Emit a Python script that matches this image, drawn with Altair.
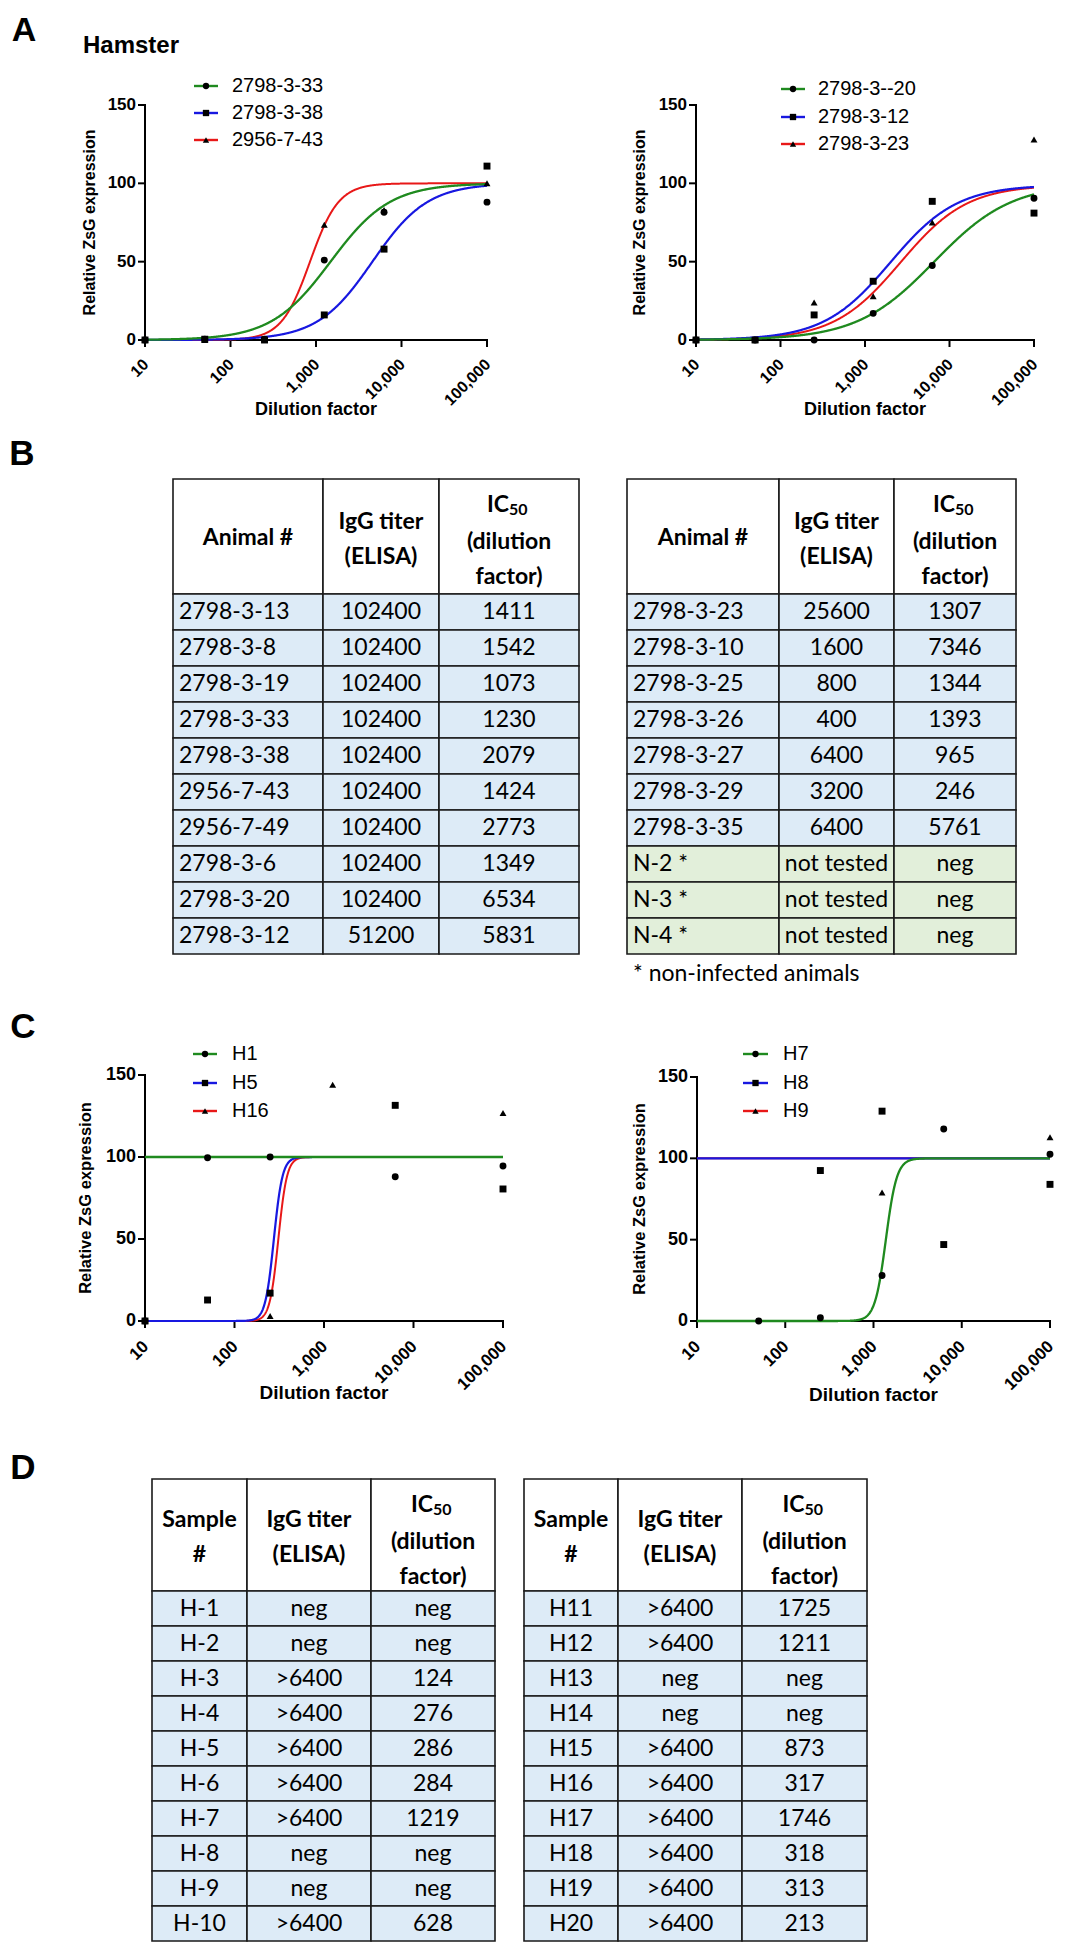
import altair as alt
import pandas as pd

# ------------------------------------------------------------------
# Values
# ------------------------------------------------------------------
dilution = [10, 50, 250, 1250, 6250, 100000]
x_tick_values = [10, 100, 1000, 10000, 100000]
y_tick_values = [0, 50, 100, 150]

# Panel A, left
a1_series = ["2798-3-33", "2798-3-38", "2956-7-43"]
a1_33 = [0, 0.5, 0.5, 51, 81.5, 88]
a1_38 = [0, 0.5, 0, 16, 58, 111]
a1_43 = [0, 0, 0.5, 73.5, 83, 100]
# fitted 4-parameter logistic curves (log10 IC50, Hill slope, bottom, top)
a1_logic50 = [3.17, 3.66, 2.93]
a1_hill = [1.25, 1.35, 2.6]
a1_bottom = [0, 0, 0]
a1_top = [100, 100, 100]

# Panel A, right
a2_series = ["2798-3--20", "2798-3-12", "2798-3-23"]
a2_20 = [0, 0, 0, 17, 47.5, 90.5]
a2_12 = [0, 0, 16, 37.5, 88.5, 81]
a2_23 = [0, 0, 24, 28, 75, 128]
a2_logic50 = [3.82, 3.30, 3.42]
a2_hill = [0.95, 1.1, 1.1]
a2_bottom = [0, 0, 0]
a2_top = [100, 99, 99]

# Panel C, left
c1_series = ["H1", "H5", "H16"]
c1_h1 = [0, 99.5, 100, None, 88, 94.5]
c1_h5 = [0, 12.8, 17, None, 131.5, 80.5]
c1_h16 = [0, None, 3, 144, None, 126.8]
c1_logic50 = [2.0, 2.44, 2.49]
c1_hill = [1, 9, 9]
c1_bottom = [100, 0, 0]
c1_top = [100, 100, 100]

# Panel C, right
c2_series = ["H7", "H8", "H9"]
c2_h7 = [None, 0, 2, 28, 118, 102.5]
c2_h8 = [None, None, 92.5, 129, 47, 84]
c2_h9 = [None, None, None, 79, None, 113]
c2_logic50 = [3.14, 2.0, 2.0]
c2_hill = [7, 1, 1]
c2_bottom = [0, 100, 100]
c2_top = [100, 100, 100]

# Panel B tables
b1_animal = ["2798-3-13", "2798-3-8", "2798-3-19", "2798-3-33", "2798-3-38",
             "2956-7-43", "2956-7-49", "2798-3-6", "2798-3-20", "2798-3-12"]
b1_igg = ["102400"] * 9 + ["51200"]
b1_ic50 = ["1411", "1542", "1073", "1230", "2079", "1424", "2773", "1349", "6534", "5831"]

b2_animal = ["2798-3-23", "2798-3-10", "2798-3-25", "2798-3-26", "2798-3-27",
             "2798-3-29", "2798-3-35", "N-2 *", "N-3 *", "N-4 *"]
b2_igg = ["25600", "1600", "800", "400", "6400", "3200", "6400",
          "not tested", "not tested", "not tested"]
b2_ic50 = ["1307", "7346", "1344", "1393", "965", "246", "5761", "neg", "neg", "neg"]

# Panel D tables
d1_sample = ["H-1", "H-2", "H-3", "H-4", "H-5", "H-6", "H-7", "H-8", "H-9", "H-10"]
d1_igg = ["neg", "neg", ">6400", ">6400", ">6400", ">6400", ">6400", "neg", "neg", ">6400"]
d1_ic50 = ["neg", "neg", "124", "276", "286", "284", "1219", "neg", "neg", "628"]

d2_sample = ["H11", "H12", "H13", "H14", "H15", "H16", "H17", "H18", "H19", "H20"]
d2_igg = [">6400", ">6400", "neg", "neg", ">6400", ">6400", ">6400", ">6400", ">6400", ">6400"]
d2_ic50 = ["1725", "1211", "neg", "neg", "873", "317", "1746", "318", "313", "213"]

# ------------------------------------------------------------------
# Layout / style
# ------------------------------------------------------------------
W, H, OFF = 1070, 1934, 8
ARIAL = "Liberation Sans"
TFONT = "Lato"
GREEN, BLUE, RED = "#1F8A1F", "#1818E0", "#E81818"
line_colors = [GREEN, BLUE, RED]
line_widths = [2.3, 2.2, 2.0]
markers = ["circle", "square", "triangle-up"]
BLUE_FILL, GREEN_FILL, BORDER = "#DDEBF7", "#E2EFDA", "#1A1A1A"


def axis_layers(xs, ys, g):
    X = lambda f: alt.X(f, scale=xs, axis=None)
    Y = lambda f: alt.Y(f, scale=ys, axis=None)
    layers = []
    # axis lines
    layers.append(alt.Chart(pd.DataFrame({"a": [x_tick_values[0]], "b": [x_tick_values[-1]],
                                          "y": [y_tick_values[0]]}))
                  .mark_rule(color="black", strokeWidth=2, strokeCap="square")
                  .encode(x=X("a:Q"), x2="b:Q", y=Y("y:Q")))
    layers.append(alt.Chart(pd.DataFrame({"x": [x_tick_values[0]], "a": [y_tick_values[0]],
                                          "b": [y_tick_values[-1]]}))
                  .mark_rule(color="black", strokeWidth=2, strokeCap="square")
                  .encode(x=X("x:Q"), y=Y("a:Q"), y2="b:Q"))
    # x ticks + labels
    xt = pd.DataFrame({"v": x_tick_values, "label": [f"{v:,}" for v in x_tick_values],
                       "y": [y_tick_values[0]] * len(x_tick_values)})
    layers.append(alt.Chart(xt).mark_tick(orient="vertical", size=7, thickness=2,
                                          color="black", yOffset=3.5, opacity=1)
                  .encode(x=X("v:Q"), y=Y("y:Q")))
    layers.append(alt.Chart(xt).mark_text(angle=315, align="right", baseline="middle",
                                          font=ARIAL, fontWeight="bold", fontSize=g["xlfs"],
                                          color="black", xOffset=1, yOffset=g["ldy"])
                  .encode(x=X("v:Q"), y=Y("y:Q"), text="label:N"))
    # y ticks + labels
    yt = pd.DataFrame({"v": y_tick_values, "label": [str(v) for v in y_tick_values],
                       "x": [x_tick_values[0]] * len(y_tick_values)})
    layers.append(alt.Chart(yt).mark_tick(orient="horizontal", size=7, thickness=2,
                                          color="black", xOffset=-3.5, opacity=1)
                  .encode(x=X("x:Q"), y=Y("v:Q")))
    layers.append(alt.Chart(yt).mark_text(align="right", baseline="middle", font=ARIAL,
                                          fontWeight="bold", fontSize=g["ylfs"], color="black",
                                          xOffset=-9)
                  .encode(x=X("x:Q"), y=Y("v:Q"), text="label:N"))
    # titles
    layers.append(alt.Chart(pd.DataFrame({"x": [1000], "y": [0], "t": ["Dilution factor"]}))
                  .mark_text(align="center", baseline="middle", font=ARIAL, fontWeight="bold",
                             fontSize=g["xtfs"], color="black", yOffset=g["xtdy"])
                  .encode(x=X("x:Q"), y=Y("y:Q"), text="t:N"))
    layers.append(alt.Chart(pd.DataFrame({"x": [10], "y": [75], "t": ["Relative ZsG expression"]}))
                  .mark_text(align="center", baseline="middle", angle=270, font=ARIAL,
                             fontWeight="bold", fontSize=g["ytfs"], color="black",
                             xOffset=g["ytdx"])
                  .encode(x=X("x:Q"), y=Y("y:Q"), text="t:N"))
    return layers


def curve_panel(series, values, logic50, hill, bottom, top, g):
    xs = alt.Scale(type="log", domain=[10, 100000], range=[g["x0"] - OFF, g["x1"] - OFF], nice=False)
    ys = alt.Scale(type="linear", domain=[0, 150], range=[g["y0"] - OFF, g["y150"] - OFF],
                   nice=False, zero=False)
    layers = axis_layers(xs, ys, g)
    for i in [2, 1, 0]:
        expr = (f"{bottom[i]} + ({top[i]} - {bottom[i]}) / "
                f"(1 + pow(10, {hill[i]} * ({logic50[i]} - datum.t)))")
        layers.append(
            alt.Chart(alt.sequence(1, 5.0001, 0.004, as_="t"))
            .transform_calculate(dil="pow(10, datum.t)", fit=expr)
            .mark_line(color=line_colors[i], strokeWidth=line_widths[i])
            .encode(x=alt.X("dil:Q", scale=xs, axis=None),
                    y=alt.Y("fit:Q", scale=ys, axis=None))
        )
    rows = []
    for name, mk, vals in zip(series, markers, values):
        for d, v in zip(dilution, vals):
            if v is not None:
                rows.append(dict(series=name, marker=mk, dil=d, val=v))
    layers.append(
        alt.Chart(pd.DataFrame(rows))
        .mark_point(filled=True, color="black", opacity=1, size=48)
        .encode(x=alt.X("dil:Q", scale=xs, axis=None),
                y=alt.Y("val:Q", scale=ys, axis=None),
                shape=alt.Shape("marker:N", scale=None))
    )

    # legend (line + marker + label)
    leg = pd.DataFrame(dict(name=series, marker=markers, color=line_colors,
                            y=[v - OFF for v in g["leg_y"]]))
    mid = (g["lx0"] + g["lx1"]) / 2 - OFF
    layers.append(alt.Chart(leg).mark_rule(strokeWidth=2.4).encode(
        x=alt.value(g["lx0"] - OFF), x2=alt.value(g["lx1"] - OFF),
        y=alt.Y("y:Q", scale=None, axis=None), color=alt.Color("color:N", scale=None)))
    layers.append(alt.Chart(leg).mark_point(filled=True, color="black", opacity=1, size=40).encode(
        x=alt.value(mid), y=alt.Y("y:Q", scale=None, axis=None),
        shape=alt.Shape("marker:N", scale=None)))
    layers.append(alt.Chart(leg).mark_text(font=ARIAL, fontSize=20, align="left",
                                           baseline="middle", color="black").encode(
        x=alt.value(g["ltx"] - OFF), y=alt.Y("y:Q", scale=None, axis=None), text="name:N"))
    return alt.layer(*layers)


def text_chart(rows, weight, align, font):
    return alt.Chart(pd.DataFrame(rows)).mark_text(
        font=font, fontWeight=weight, align=align, baseline="middle", color="black"
    ).encode(x=alt.X("x:Q", scale=None, axis=None), y=alt.Y("y:Q", scale=None, axis=None),
             text="text:N", size=alt.Size("size:Q", scale=None, legend=None))


def table(edges, top, head_bot, row_h, columns, first_left, head_lines, ic_y, sub_y):
    n = len(columns[0])
    cells = []
    for c in range(3):
        cells.append(dict(x0=edges[c] - OFF, x1=edges[c + 1] - OFF,
                          y0=top - OFF, y1=head_bot - OFF, fill="#FFFFFF"))
        for r in range(n):
            fill = GREEN_FILL if columns[0][r].endswith("*") else BLUE_FILL
            cells.append(dict(x0=edges[c] - OFF, x1=edges[c + 1] - OFF,
                              y0=head_bot + r * row_h - OFF, y1=head_bot + (r + 1) * row_h - OFF,
                              fill=fill))
    rects = alt.Chart(pd.DataFrame(cells)).mark_rect(stroke=BORDER, strokeWidth=1.6).encode(
        x=alt.X("x0:Q", scale=None, axis=None), x2="x1:Q",
        y=alt.Y("y0:Q", scale=None, axis=None), y2="y1:Q",
        fill=alt.Fill("fill:N", scale=None))
    centers = [(edges[c] + edges[c + 1]) / 2 - OFF for c in range(3)]
    body_c, body_l = [], []
    for c in range(3):
        for r in range(n):
            y = head_bot + (r + 0.5) * row_h - OFF
            if c == 0 and first_left:
                body_l.append(dict(text=columns[c][r], x=edges[0] + 6 - OFF, y=y, size=23))
            else:
                body_c.append(dict(text=columns[c][r], x=centers[c], y=y, size=23))
    head = [dict(text=t, x=centers[c], y=yy - OFF, size=23) for (t, c, yy) in head_lines]
    layers = [rects, text_chart(body_c, "normal", "center", TFONT),
              text_chart(head, "bold", "center", TFONT),
              text_chart([dict(text="IC", x=centers[2], y=ic_y - OFF, size=23)], "bold", "right", TFONT),
              text_chart([dict(text="50", x=centers[2], y=sub_y - OFF, size=16)], "bold", "left", TFONT)]
    if body_l:
        layers.append(text_chart(body_l, "normal", "left", TFONT))
    return alt.layer(*layers)


geo_a1 = dict(x0=145, x1=487, y0=340, y150=105, ldy=22, xlfs=16, ylfs=17, xtfs=18, ytfs=16,
              xtdy=70, ytdx=-55, lx0=194, lx1=218, ltx=232, leg_y=[86, 113, 140])
geo_a2 = dict(x0=696, x1=1034, y0=340, y150=105, ldy=22, xlfs=16, ylfs=17, xtfs=18, ytfs=16,
              xtdy=70, ytdx=-56, lx0=781, lx1=805, ltx=818, leg_y=[89, 117, 144])
geo_c1 = dict(x0=145, x1=503, y0=1321, y150=1075, ldy=23, xlfs=17, ylfs=18, xtfs=19, ytfs=16.5,
              xtdy=72, ytdx=-59, lx0=193, lx1=217, ltx=232, leg_y=[1054, 1083, 1111])
geo_c2 = dict(x0=697, x1=1050, y0=1321, y150=1077, ldy=23, xlfs=17, ylfs=18, xtfs=19, ytfs=16.5,
              xtdy=74, ytdx=-57, lx0=743, lx1=768, ltx=783, leg_y=[1054, 1083, 1111])

panel_a1 = curve_panel(a1_series, [a1_33, a1_38, a1_43], a1_logic50, a1_hill, a1_bottom, a1_top, geo_a1)
panel_a2 = curve_panel(a2_series, [a2_20, a2_12, a2_23], a2_logic50, a2_hill, a2_bottom, a2_top, geo_a2)
panel_c1 = curve_panel(c1_series, [c1_h1, c1_h5, c1_h16], c1_logic50, c1_hill, c1_bottom, c1_top, geo_c1)
panel_c2 = curve_panel(c2_series, [c2_h7, c2_h8, c2_h9], c2_logic50, c2_hill, c2_bottom, c2_top, geo_c2)

b_head = [("Animal #", 0, 538), ("IgG titer", 1, 522), ("(ELISA)", 1, 557),
          ("(dilution", 2, 542), ("factor)", 2, 577)]
d_head = [("Sample", 0, 1520), ("#", 0, 1555), ("IgG titer", 1, 1520), ("(ELISA)", 1, 1555),
          ("(dilution", 2, 1542), ("factor)", 2, 1577)]

table_b1 = table([173, 323, 439, 579], 479, 594, 36, [b1_animal, b1_igg, b1_ic50], True, b_head, 505, 510)
table_b2 = table([627, 779, 894, 1016], 479, 594, 36, [b2_animal, b2_igg, b2_ic50], True, b_head, 505, 510)
table_d1 = table([152, 247, 371, 495], 1479, 1591, 35, [d1_sample, d1_igg, d1_ic50], False, d_head, 1505, 1510)
table_d2 = table([524, 618, 742, 867], 1479, 1591, 35, [d2_sample, d2_igg, d2_ic50], False, d_head, 1505, 1510)

letters = text_chart([dict(text="A", x=24 - OFF, y=31 - OFF, size=34),
                      dict(text="B", x=22 - OFF, y=454 - OFF, size=35),
                      dict(text="C", x=23 - OFF, y=1027 - OFF, size=35),
                      dict(text="D", x=23 - OFF, y=1468 - OFF, size=35)], "bold", "center", ARIAL)
hamster = text_chart([dict(text="Hamster", x=83 - OFF, y=46 - OFF, size=24)], "bold", "left", ARIAL)
footnote = text_chart([dict(text="* non-infected animals", x=633 - OFF, y=974 - OFF, size=23)],
                      "normal", "left", TFONT)

chart = (
    alt.layer(panel_a1, panel_a2, panel_c1, panel_c2,
              table_b1, table_b2, table_d1, table_d2, letters, hamster, footnote)
    .resolve_scale(x="independent", y="independent")
    .properties(width=W, height=H, padding=0, autosize=alt.AutoSizeParams(type="none"),
                background="white")
    .configure_view(stroke=None)
)

chart.save("out.html", embed_options={"renderer": "svg", "actions": False})
